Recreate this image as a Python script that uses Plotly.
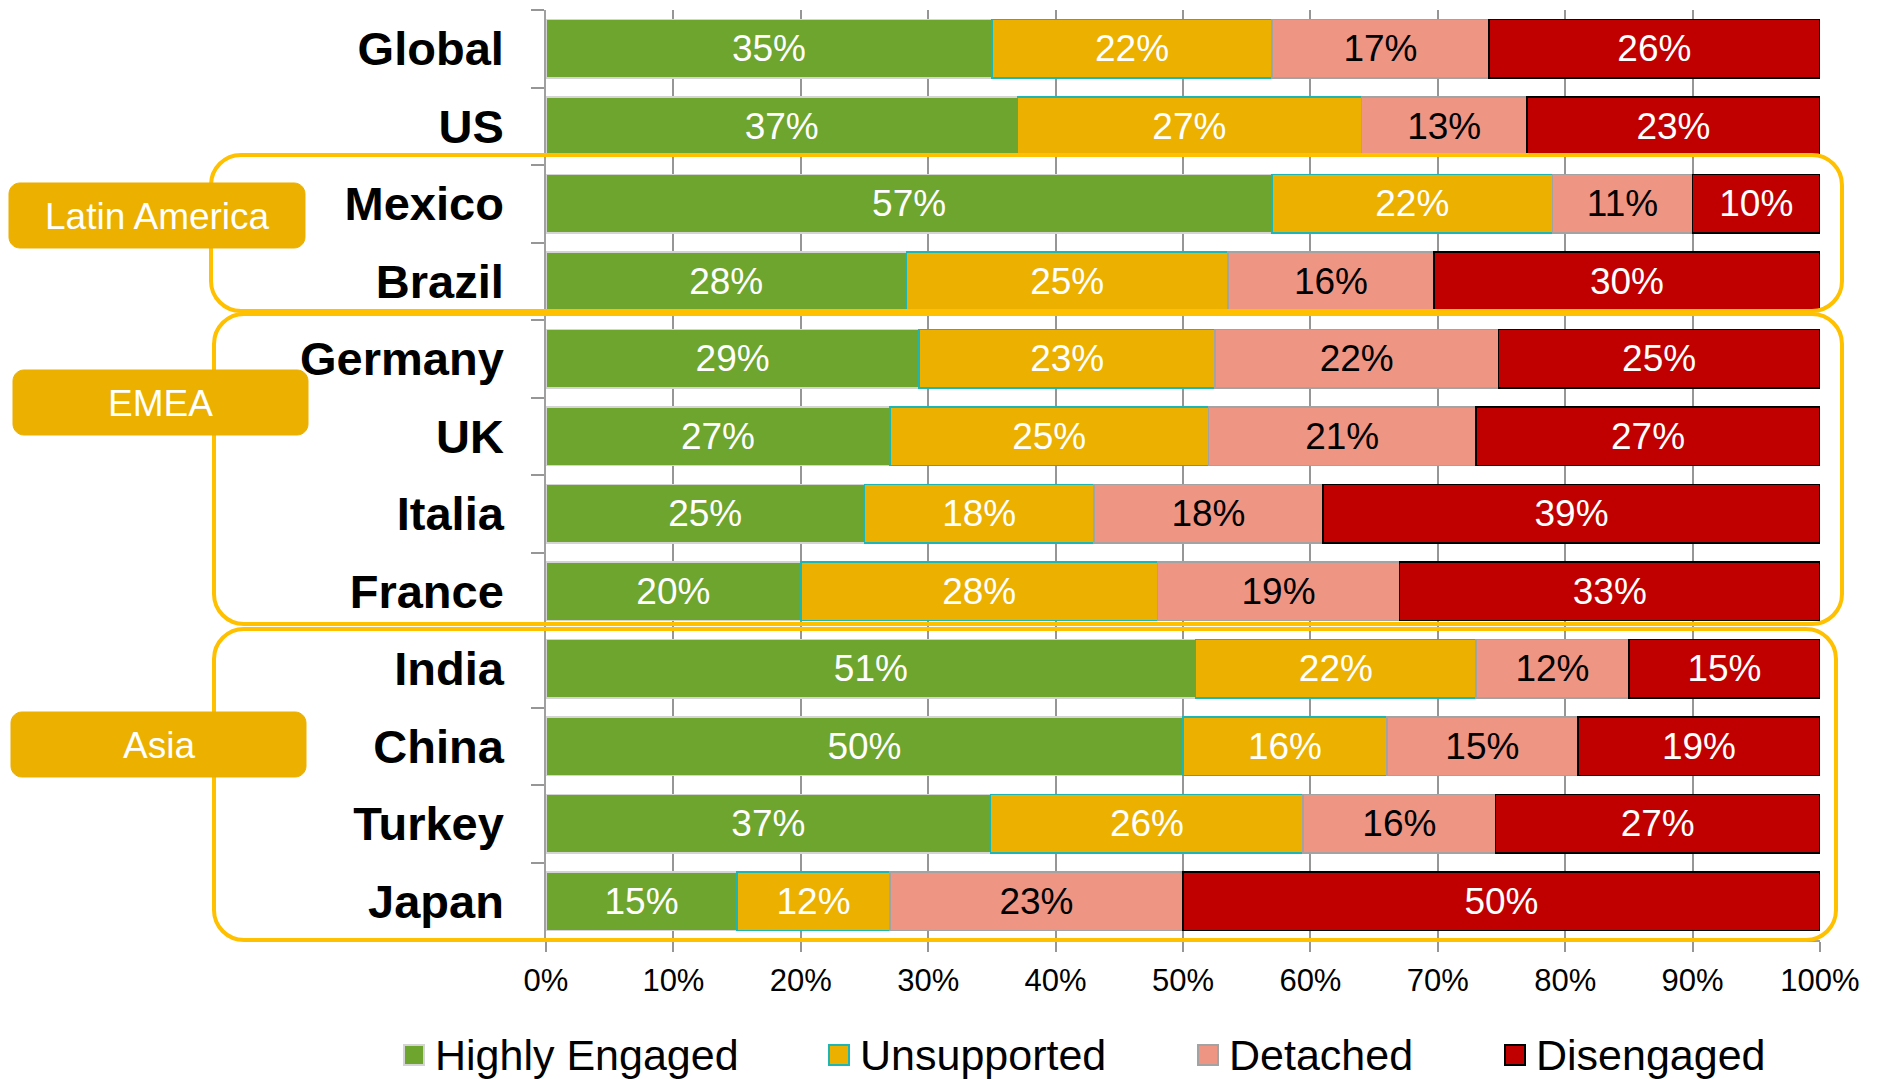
import plotly.graph_objects as go

# ---- data -----------------------------------------------------------------
countries = ["Global", "US", "Mexico", "Brazil", "Germany", "UK", "Italia",
             "France", "India", "China", "Turkey", "Japan"]
series_names = ["Highly Engaged", "Unsupported", "Detached", "Disengaged"]

highly_engaged = [35, 37, 57, 28, 29, 27, 25, 20, 51, 50, 37, 15]
unsupported = [22, 27, 22, 25, 23, 25, 18, 28, 22, 16, 26, 12]
detached = [17, 13, 11, 16, 22, 21, 18, 19, 12, 15, 16, 23]
disengaged = [26, 23, 10, 30, 25, 27, 39, 33, 15, 19, 27, 50]

x_ticks = list(range(0, 101, 10))

regions = ["Latin America", "EMEA", "Asia"]
region_first = ["Mexico", "Germany", "India"]
region_last = ["Brazil", "France", "Japan"]

# ---- styling ---------------------------------------------------------------
W, H = 1878, 1079
L, T, R, B = 546, 10, 58, 139
PW, PH = W - L - R, H - T - B
BAND = PH / len(countries)

FONT = "Liberation Sans, Arial, sans-serif"
fills = ["#6DA52E", "#EBB000", "#EF9584", "#C00000"]
edges = ["#D4D4D4", "#1DB6B4", "#A3A3A3", "#000000"]
text_colors = ["white", "white", "black", "white"]
values = [highly_engaged, unsupported, detached, disengaged]

fig = go.Figure()
for name, vals, fc, ec, tc in zip(series_names, values, fills, edges, text_colors):
    fig.add_trace(go.Bar(
        y=countries, x=vals, name=name, orientation="h",
        marker=dict(color=fc, line=dict(color=ec, width=1.5)),
        text=[f"{v}%" for v in vals], textposition="inside",
        insidetextanchor="middle", textangle=0, constraintext="none",
        textfont=dict(family=FONT, size=37, color=tc),
        showlegend=False, hoverinfo="skip",
    ))


def px(x):
    return (x - L) / PW


def py(y):
    return 1 - (y - T) / PH


def rounded_path(x0, y0, x1, y1, r):
    """Rounded rectangle in pixel space, emitted in paper coordinates."""
    k = 0.5523 * r
    pts = [
        ("M", [(x0 + r, y0)]),
        ("L", [(x1 - r, y0)]),
        ("C", [(x1 - r + k, y0), (x1, y0 + r - k), (x1, y0 + r)]),
        ("L", [(x1, y1 - r)]),
        ("C", [(x1, y1 - r + k), (x1 - r + k, y1), (x1 - r, y1)]),
        ("L", [(x0 + r, y1)]),
        ("C", [(x0 + r - k, y1), (x0, y1 - r + k), (x0, y1 - r)]),
        ("L", [(x0, y0 + r)]),
        ("C", [(x0, y0 + r - k), (x0 + r - k, y0), (x0 + r, y0)]),
    ]
    out = []
    for cmd, coords in pts:
        out.append(cmd + " ".join(f"{px(a):.5f},{py(b):.5f}" for a, b in coords))
    return " ".join(out) + " Z"


shapes = []
annotations = []

# region outlines around their rows
outline_left = [211, 214, 214]
outline_right = [1842, 1842, 1836]
pad_top = [10, 6, 1]
pad_bottom = [9, 6, 0]
for i, (first, last) in enumerate(zip(region_first, region_last)):
    top = T + BAND * countries.index(first) - pad_top[i]
    bottom = T + BAND * (countries.index(last) + 1) - pad_bottom[i]
    shapes.append(dict(
        type="path", xref="paper", yref="paper", layer="above",
        path=rounded_path(outline_left[i], top, outline_right[i], bottom, 30),
        line=dict(color="#FFC000", width=4), fillcolor="rgba(0,0,0,0)",
    ))

# region name tags
tag_boxes = [(9, 183, 305, 248), (13, 370, 308, 435), (11, 712, 306, 777)]
for name, (x0, y0, x1, y1) in zip(regions, tag_boxes):
    shapes.append(dict(
        type="path", xref="paper", yref="paper", layer="above",
        path=rounded_path(x0, y0, x1, y1, 11),
        line=dict(color="#EBB000", width=1), fillcolor="#EBB000",
    ))
    annotations.append(dict(
        text=name, xref="paper", yref="paper",
        x=px((x0 + x1) / 2), y=py((y0 + y1) / 2 + 1),
        xanchor="center", yanchor="middle", showarrow=False,
        font=dict(family=FONT, size=37, color="white"),
    ))

# legend row
legend_marker_x = [404, 829, 1198, 1505]
legend_y = 1055
for name, fc, ec, mx in zip(series_names, fills, edges, legend_marker_x):
    shapes.append(dict(
        type="rect", xref="paper", yref="paper", layer="above",
        x0=px(mx), x1=px(mx + 20), y0=py(legend_y - 10), y1=py(legend_y + 10),
        fillcolor=fc, line=dict(color=ec, width=2),
    ))
    annotations.append(dict(
        text=name, xref="paper", yref="paper",
        x=px(mx + 29), y=py(legend_y),
        xanchor="left", yanchor="middle", showarrow=False,
        font=dict(family=FONT, size=43, color="black"),
    ))

fig.update_layout(
    width=W, height=H,
    margin=dict(l=L, r=R, t=T, b=B),
    barmode="stack", barnorm="percent", bargap=0.246,
    paper_bgcolor="white", plot_bgcolor="white",
    font=dict(family=FONT, color="black"),
    shapes=shapes, annotations=annotations,
    xaxis=dict(
        range=[0, 100], tickvals=x_ticks, ticktext=[f"{v}%" for v in x_ticks],
        showgrid=True, gridcolor="#969696", gridwidth=1.5,
        showline=True, linecolor="#A0A0A0", linewidth=1.5,
        ticks="outside", ticklen=10, tickcolor="#969696", tickwidth=1.5,
        tickfont=dict(family=FONT, size=31, color="black"),
        ticklabelstandoff=2, zeroline=False, fixedrange=True,
    ),
    yaxis=dict(
        autorange="reversed", categoryorder="array", categoryarray=countries,
        showline=True, linecolor="#A0A0A0", linewidth=1.5,
        ticks="outside", tickson="boundaries", ticklen=13,
        tickcolor="#969696", tickwidth=1.5,
        tickfont=dict(family=FONT, size=47, color="black", weight="bold"),
        ticklabelstandoff=31, showgrid=False, fixedrange=True,
    ),
)

fig.write_html("out.html")
